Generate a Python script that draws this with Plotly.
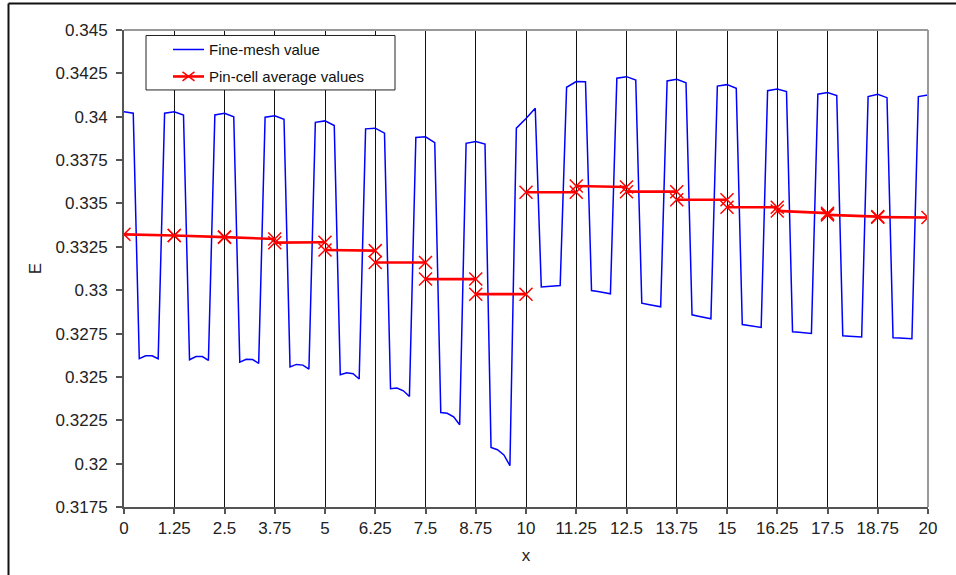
import plotly.graph_objects as go

# ---------------- data ----------------
cell_edges = [0.0, 1.25, 2.5, 3.75, 5.0, 6.25, 7.5, 8.75, 10.0, 11.25,
              12.5, 13.75, 15.0, 16.25, 17.5, 18.75, 20.0]
x_tick_labels = ["0", "1.25", "2.5", "3.75", "5", "6.25", "7.5", "8.75", "10",
                 "11.25", "12.5", "13.75", "15", "16.25", "17.5", "18.75", "20"]
y_tick_vals = [0.3175, 0.32, 0.3225, 0.325, 0.3275, 0.33, 0.3325, 0.335,
               0.3375, 0.34, 0.3425, 0.345]
y_tick_labels = ["0.3175", "0.32", "0.3225", "0.325", "0.3275", "0.33", "0.3325",
                 "0.335", "0.3375", "0.34", "0.3425", "0.345"]

# fine-mesh: high plateau around each cell edge (start, peak, end)
hi_offsets = [-0.24, 0.0, 0.23]
hi_start = [None, 0.34020, 0.34010, 0.33997, 0.33968, 0.33930, 0.33880, 0.33847,
            0.33934, 0.34170, 0.34222, 0.34206, 0.34177, 0.34150, 0.34130, 0.34116, 0.34116]
hi_peak = [0.34029, 0.34029, 0.34020, 0.34005, 0.33976, 0.33934, 0.33884, 0.33857,
           0.33990, 0.34203, 0.34231, 0.34216, 0.34185, 0.34160, 0.34140, 0.34130, 0.34125]
hi_end = [0.34020, 0.34010, 0.34000, 0.33985, 0.33949, 0.33905, 0.33851, 0.33842,
          0.34049, 0.34202, 0.34212, 0.34196, 0.34164, 0.34145, 0.34122, 0.34110, None]

# fine-mesh: low plateau in the middle of each pin cell
lo_offsets = [0.38, 0.54, 0.70, 0.85]
lo_start = [0.32605, 0.32599, 0.32585, 0.32558, 0.32512, 0.32432, 0.32295, 0.32093,
            0.33018, 0.32998, 0.32925, 0.32858, 0.32802, 0.32760, 0.32737, 0.32726]
lo_m1 = [0.32622, 0.32617, 0.32602, 0.32572, 0.32524, 0.32436, 0.32290, 0.32080,
         0.33021, 0.32992, 0.32918, 0.32850, 0.32796, 0.32757, 0.32735, 0.32724]
lo_m2 = [0.32622, 0.32617, 0.32600, 0.32568, 0.32518, 0.32420, 0.32270, 0.32050,
         0.33024, 0.32986, 0.32911, 0.32843, 0.32791, 0.32753, 0.32732, 0.32722]
lo_end = [0.32605, 0.32595, 0.32578, 0.32545, 0.32488, 0.32387, 0.32224, 0.31988,
          0.33027, 0.32979, 0.32904, 0.32835, 0.32785, 0.32750, 0.32730, 0.32720]

# pin-cell averages (value at left and right end of each cell)
avg_left = [0.33322, 0.33315, 0.33306, 0.33274, 0.33232, 0.33160, 0.33064, 0.32977,
            0.33565, 0.33601, 0.33568, 0.33521, 0.33478, 0.33457, 0.33434, 0.33421]
avg_right = [0.33315, 0.33306, 0.33295, 0.33276, 0.33228, 0.33160, 0.33064, 0.32977,
             0.33565, 0.33595, 0.33568, 0.33521, 0.33478, 0.33444, 0.33424, 0.33419]

# ---------------- build series ----------------
fx, fy = [], []
for k, c in enumerate(cell_edges):
    for off, v in zip(hi_offsets, (hi_start[k], hi_peak[k], hi_end[k])):
        if v is None:
            continue
        fx.append(c + off)
        fy.append(v)
    if k < len(lo_start):
        for off, v in zip(lo_offsets, (lo_start[k], lo_m1[k], lo_m2[k], lo_end[k])):
            fx.append(c + off)
            fy.append(v)

ax_, ay_ = [], []
for k in range(len(avg_left)):
    ax_ += [cell_edges[k], cell_edges[k + 1], None]
    ay_ += [avg_left[k], avg_right[k], None]

fig = go.Figure()
fig.add_trace(go.Scatter(x=fx, y=fy, mode="lines", name="Fine-mesh value",
                         line=dict(color="#0000ff", width=1.5), showlegend=False))
fig.add_trace(go.Scatter(x=ax_, y=ay_, mode="lines+markers", name="Pin-cell average values",
                         line=dict(color="#ff0000", width=2.6),
                         marker=dict(symbol="x-thin", size=13, color="#ff0000",
                                     line=dict(color="#ff0000", width=1.5)),
                         showlegend=False))

# ---------------- layout helpers ----------------
L, R, T, B = 124, 928, 30, 507.3
W, H = 956, 575


def px(xp):
    return (xp - L) / (R - L)


def py(yp):
    return (B - yp) / (B - T)


font_main = dict(family="Liberation Sans, Arial, sans-serif", size=17, color="#222222")

shapes = [
    # plot-area frame top/right
    dict(type="line", xref="paper", yref="paper", x0=0, x1=1, y0=1, y1=1,
         line=dict(color="#999999", width=2)),
    dict(type="line", xref="paper", yref="paper", x0=1, x1=1, y0=0, y1=1,
         line=dict(color="#999999", width=2)),
    # outer chart border
    dict(type="line", xref="paper", yref="paper", x0=px(8.5), x1=px(W + 5), y0=py(3.5), y1=py(3.5),
         line=dict(color="#111111", width=2)),
    dict(type="line", xref="paper", yref="paper", x0=px(8.5), x1=px(8.5), y0=py(3.5), y1=py(H + 5),
         line=dict(color="#111111", width=2)),
    # legend box
    dict(type="rect", xref="paper", yref="paper", x0=px(146), x1=px(395), y0=py(35.5), y1=py(90),
         line=dict(color="#222222", width=1), fillcolor="white", layer="above"),
    # legend samples
    dict(type="line", xref="paper", yref="paper", x0=px(173), x1=px(204), y0=py(49.5), y1=py(49.5),
         line=dict(color="#0000ff", width=1.5), layer="above"),
    dict(type="line", xref="paper", yref="paper", x0=px(173), x1=px(204), y0=py(76.5), y1=py(76.5),
         line=dict(color="#ff0000", width=2.6), layer="above"),
    dict(type="line", xref="paper", yref="paper", x0=px(182.5), x1=px(194.5), y0=py(72), y1=py(81),
         line=dict(color="#ff0000", width=1.5), layer="above"),
    dict(type="line", xref="paper", yref="paper", x0=px(182.5), x1=px(194.5), y0=py(81), y1=py(72),
         line=dict(color="#ff0000", width=1.5), layer="above"),
]

legend_font = dict(family="Liberation Sans, Arial, sans-serif", size=15, color="#111111")
annotations = [
    dict(xref="paper", yref="paper", x=px(207), y=py(49.5), text="Fine-mesh value",
         showarrow=False, xanchor="left", yanchor="middle", font=legend_font),
    dict(xref="paper", yref="paper", x=px(207), y=py(76.5), text="Pin-cell average values",
         showarrow=False, xanchor="left", yanchor="middle", font=legend_font),
]

fig.update_layout(
    width=W, height=H,
    margin=dict(l=L, r=W - R, t=T, b=H - B, autoexpand=False),
    paper_bgcolor="white", plot_bgcolor="white",
    showlegend=False,
    shapes=shapes, annotations=annotations,
    font=font_main,
)
fig.update_xaxes(
    range=[0, 20], tickmode="array", tickvals=cell_edges, ticktext=x_tick_labels,
    showgrid=True, gridcolor="#111111", gridwidth=1,
    showline=True, linecolor="#555555", linewidth=1.5,
    ticks="outside", ticklen=5, tickcolor="#555555", tickwidth=1.5,
    zeroline=False, tickfont=font_main, automargin=False,
    title=dict(text="x", font=font_main, standoff=12),
)
fig.update_yaxes(
    range=[0.3175, 0.345], tickmode="array", tickvals=y_tick_vals, ticktext=y_tick_labels,
    showgrid=False, showline=True, linecolor="#555555", linewidth=2,
    ticks="outside", ticklen=6, tickcolor="#555555", tickwidth=1.5,
    zeroline=False, tickfont=font_main, automargin=False, ticklabelstandoff=5,
    title=dict(text="E", font=font_main, standoff=10),
)

fig.write_html("out.html")
